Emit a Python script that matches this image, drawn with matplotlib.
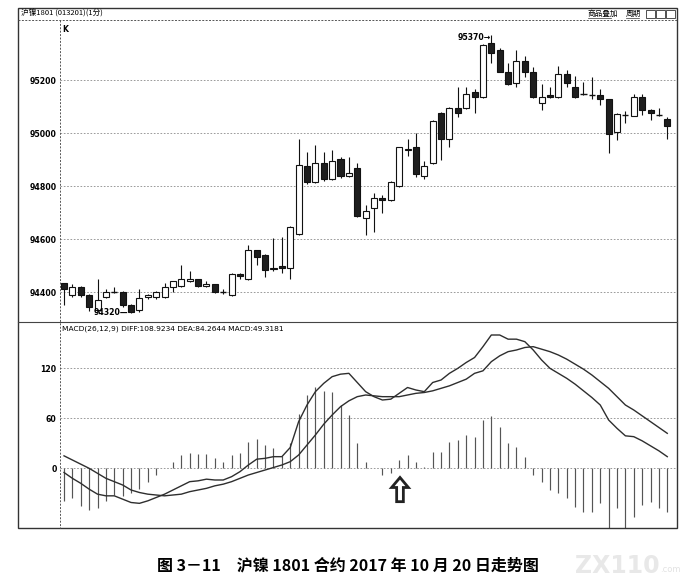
import matplotlib
matplotlib.use("Agg")
import matplotlib.pyplot as plt
from matplotlib.lines import Line2D
from matplotlib.patches import Rectangle, FancyArrow
import numpy as np

plt.rcParams['font.family'] = ['DejaVu Sans', 'Noto Sans CJK SC']

# 1分钟K线 (沪镍1801, 2017-10-20)
opens = [94433, 94389, 94420, 94389, 94332, 94380, 94400, 94399, 94351, 94332,
         94380, 94380, 94380, 94420, 94423, 94440, 94448, 94423, 94429, 94400,
         94389, 94470, 94448, 94558, 94540, 94486, 94499, 94489, 94618, 94877,
         94816, 94886, 94825, 94904, 94838, 94867, 94678, 94716, 94756, 94747,
         94800, 94938, 94946, 94838, 94886, 95077, 94976, 95093, 95093, 95154,
         95135, 95341, 95313, 95231, 95188, 95272, 95231, 95114, 95145, 95135,
         95222, 95173, 95146, 95143, 95143, 95127, 95005, 95068, 95065, 95135,
         95087, 95068, 95055]
closes = [94411, 94420, 94389, 94342, 94370, 94399, 94400, 94351, 94323, 94378,
          94389, 94401, 94420, 94440, 94448, 94448, 94423, 94430, 94401, 94400,
          94470, 94460, 94558, 94531, 94483, 94492, 94491, 94646, 94879, 94816,
          94886, 94825, 94895, 94838, 94848, 94687, 94707, 94756, 94747, 94816,
          94946, 94940, 94845, 94877, 95046, 94976, 95096, 95077, 95146, 95135,
          95332, 95301, 95231, 95185, 95272, 95231, 95135, 95135, 95135, 95222,
          95188, 95135, 95146, 95143, 95127, 94996, 95074, 95068, 95135, 95087,
          95077, 95068, 95026]
highs = [94436, 94429, 94423, 94392, 94448, 94410, 94418, 94403, 94354, 94410,
         94393, 94405, 94435, 94443, 94502, 94479, 94451, 94440, 94432, 94410,
         94472, 94472, 94577, 94560, 94542, 94605, 94609, 94650, 94976, 94927,
         94957, 94927, 94938, 94910, 94908, 94886, 94730, 94775, 94768, 94818,
         94948, 94976, 94999, 94895, 95048, 95080, 95100, 95173, 95173, 95165,
         95335, 95370, 95322, 95263, 95313, 95290, 95250, 95185, 95175, 95253,
         95240, 95217, 95194, 95213, 95165, 95130, 95076, 95082, 95146, 95146,
         95090, 95093, 95062]
lows = [94352, 94381, 94381, 94330, 94330, 94378, 94398, 94342, 94320, 94323,
        94374, 94374, 94378, 94400, 94420, 94438, 94420, 94420, 94396, 94392,
        94387, 94448, 94446, 94502, 94458, 94478, 94473, 94448, 94615, 94808,
        94810, 94820, 94822, 94830, 94836, 94685, 94615, 94628, 94697, 94745,
        94798, 94912, 94835, 94826, 94884, 94898, 94949, 95060, 95090, 95075,
        95133, 95263, 95229, 95183, 95175, 95210, 95133, 95087, 95133, 95133,
        95175, 95133, 95144, 95128, 95105, 94926, 94975, 95040, 95063, 95068,
        95050, 95066, 94976]

# MACD(26,12,9)
diff = [-5, -12, -18, -25, -31, -33, -33, -37, -41, -42,
        -39, -35, -31, -26, -21, -16, -15, -13, -14, -14,
        -10, -4, 4, 11, 12, 14, 14, 25, 56, 76,
        92, 102, 110, 113, 114, 103, 92, 86, 82, 83,
        90, 97, 94, 92, 103, 106, 114, 120, 127, 133,
        146, 160, 160, 155, 155, 152, 142, 130, 120, 114,
        108, 101, 93, 85, 76, 58, 48, 39, 38, 33,
        27, 21, 14]
dea = [15, 10, 5, 0, -6, -12, -16, -20, -26, -29,
       -31, -32, -33, -32, -31, -28, -26, -24, -21, -19,
       -16, -12, -8, -5, -2, 1, 4, 8, 16, 28,
       40, 53, 64, 74, 81, 86, 88, 87, 86, 86,
       86, 88, 90, 91, 93, 96, 99, 103, 107, 114,
       117, 128, 135, 140, 142, 145, 146, 143, 140, 136,
       131, 125, 119, 112, 104, 96, 86, 76, 70, 63,
       56, 49, 42]
macd_hist = [-39, -36, -45, -50, -48, -39, -32, -33, -30, -25,
             -16, -8, 0, 8, 16, 19, 17, 17, 12, 8,
             16, 18, 32, 35, 28, 24, 15, 30, 65, 88,
             98, 93, 92, 76, 64, 30, 8, 0, -8, -6,
             10, 16, 8, 2, 20, 20, 32, 34, 40, 38,
             58, 63, 50, 31, 26, 14, -8, -16, -26, -30,
             -36, -46, -52, -52, -42, -72, -48, -72, -58, -44,
             -40, -48, -52]

price_ticks = [94400, 94600, 94800, 95000, 95200]
macd_ticks = [0, 60, 120]

W, H = 684, 584
fig = plt.figure(figsize=(W / 100, H / 100), dpi=100)
fig.patch.set_facecolor('white')


def fx(px):
    return px / W


def fy(py):
    return 1 - py / H


def fline(x0, y0, x1, y1, **kw):
    fig.add_artist(Line2D([fx(x0), fx(x1)], [fy(y0), fy(y1)],
                          transform=fig.transFigure, **kw))


L, R = 60, 677
ax = fig.add_axes([fx(L), fy(322), fx(R - L), fy(20) - fy(322)])
ax2 = fig.add_axes([fx(L), fy(528), fx(R - L), fy(322) - fy(528)])

n = len(opens)
x = np.arange(n)
for a in (ax, ax2):
    a.set_xlim(-0.48, n - 1 + 1.16)
    for s in a.spines.values():
        s.set_visible(False)
    a.set_xticks([])
    a.tick_params(axis='y', length=0, pad=2.5, labelsize=5.6)
    a.yaxis.grid(True, linestyle=(0, (2, 2)), color='#8a8a8a', lw=0.6)
    a.set_axisbelow(True)

# ---- K线 ----
ax.set_ylim(94287, 95427)
ax.set_yticks(price_ticks)
ax.set_yticklabels([str(v) for v in price_ticks], fontweight='bold', fontsize=5.6)

o = np.array(opens)
c = np.array(closes)
ax.vlines(x, lows, highs, color='#111', lw=0.8, zorder=2)
up = c > o
dn = c < o
fl = c == o
ax.bar(x[up], (c - o)[up], bottom=o[up], width=0.72, facecolor='white',
       edgecolor='#111', lw=0.8, zorder=3)
ax.bar(x[dn], (o - c)[dn], bottom=c[dn], width=0.72, facecolor='#1e1e1e',
       edgecolor='#111', lw=0.8, zorder=3)
ax.hlines(o[fl], x[fl] - 0.36, x[fl] + 0.36, color='#111', lw=1.0, zorder=3)

ax.text(0.004, 0.985, 'K', transform=ax.transAxes, ha='left', va='top',
        fontsize=5.5, fontweight='bold')
imax = int(np.argmax(highs))
imin = int(np.argmin(lows))
ax.text(imax - 0.1, highs[imax] - 8, f'{highs[imax]}\u2192', ha='right', va='center',
        fontsize=5.6, fontweight='bold')
ax.text(imin - 0.35, lows[imin] + 2, f'{lows[imin]}\u2014', ha='right', va='center',
        fontsize=5.6, fontweight='bold')

# ---- MACD ----
ax2.set_ylim(-71.6, 175.6)
ax2.set_yticks(macd_ticks)
ax2.set_yticklabels([str(v) for v in macd_ticks], fontweight='bold', fontsize=5.6)
ax2.vlines(x, 0, macd_hist, color='#555555', lw=0.85, zorder=2)
ax2.plot(x, dea, color='#2e2e2e', lw=1.0, zorder=3)
ax2.plot(x, diff, color='#2e2e2e', lw=1.0, zorder=3)
ax2.text(0.003, 0.985, 'MACD(26,12,9) DIFF:108.9234 DEA:84.2644 MACD:49.3181',
         transform=ax2.transAxes, ha='left', va='top', fontsize=5.4)
ax2.add_patch(FancyArrow(40.1, -40, 0, 29, width=0.8, head_width=2.0,
                         head_length=12, length_includes_head=True,
                         facecolor='white', edgecolor='#222', lw=2.0, zorder=5))

# ---- 外框 ----
fig.add_artist(Rectangle((fx(18), fy(528)), fx(R - 18), fy(8) - fy(528),
                         transform=fig.transFigure, fill=False, ec='#333', lw=1.0))
fline(18, 20, R, 20, color='#555', lw=0.7, ls=(0, (2, 1.5)))
fline(L, 20, L, 528, color='#555', lw=0.7, ls=(0, (2, 1.5)))
fline(18, 322, R, 322, color='#444', lw=0.8)

fig.text(fx(21), fy(14), '沪镍1801 (013201)(1分)', ha='left', va='center',
         fontsize=5.5, family=['Noto Sans CJK SC', 'DejaVu Sans'])
fig.text(fx(588), fy(14), '商品叠加', ha='left', va='center', fontsize=5.5,
         family=['Noto Sans CJK SC', 'DejaVu Sans'])
fig.text(fx(626), fy(14), '周期', ha='left', va='center', fontsize=5.5,
         family=['Noto Sans CJK SC', 'DejaVu Sans'])
fline(588, 18, 611, 18, color='#333', lw=0.5)
fline(626, 18, 639, 18, color='#333', lw=0.5)
for bx in (646, 656, 666):
    fig.add_artist(Rectangle((fx(bx), fy(18)), fx(9), fy(10) - fy(18),
                             transform=fig.transFigure, fill=False, ec='#333', lw=0.6))

fig.text(fx(348), fy(565), '图 3－11　沪镍 1801 合约 2017 年 10 月 20 日走势图',
         ha='center', va='center', fontsize=11.5, fontweight='bold',
         family=['Noto Sans CJK SC', 'DejaVu Sans'])
fig.text(fx(617), fy(566), 'ZX110', ha='center', va='center', fontsize=17,
         color='#e8e8e8', fontweight='bold')
fig.text(fx(660), fy(570), '.com', ha='left', va='center', fontsize=6, color='#e2e2e2')

fig.savefig('out.png', dpi=100, facecolor='white')
